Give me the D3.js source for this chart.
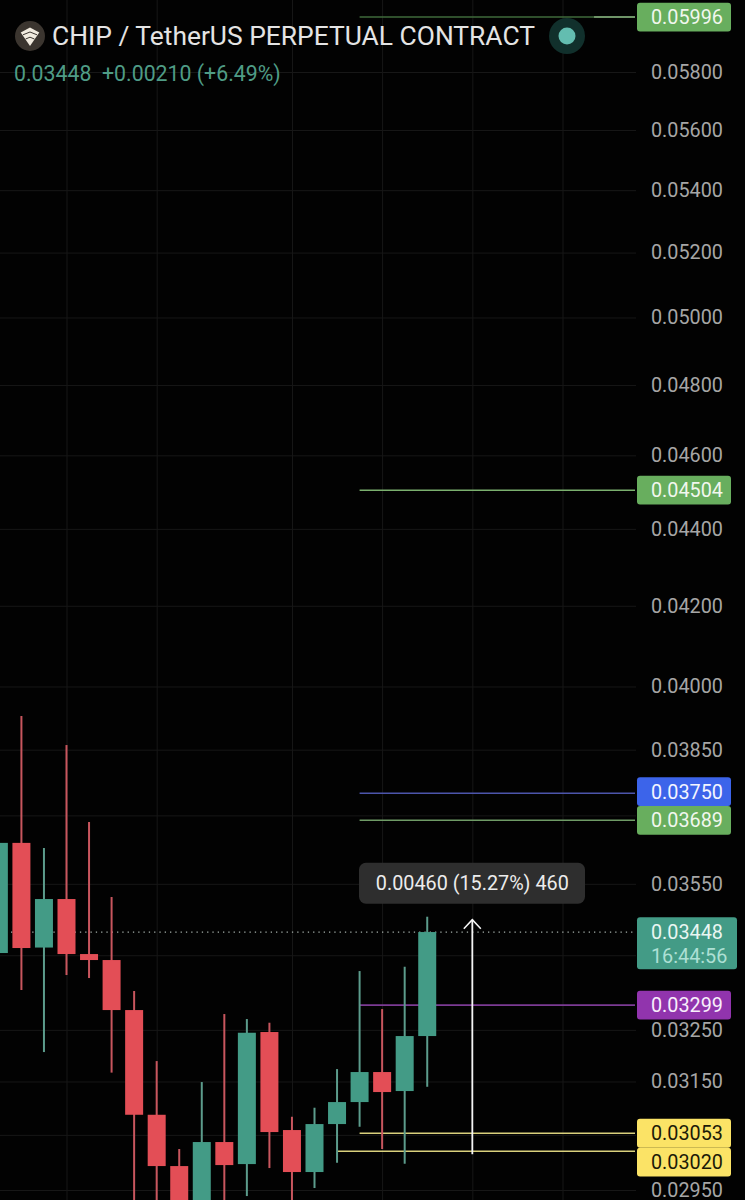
<!DOCTYPE html>
<html>
<head>
<meta charset="utf-8">
<title>CHIP / TetherUS Perpetual Contract</title>
<script src="https://cdn.jsdelivr.net/npm/d3@7"></script>
<style>
  html, body { margin: 0; background: #020202; }
  svg { display: block; font-family: Roboto, sans-serif; }
</style>
</head>
<body>
<svg id="chart" width="745" height="1200"></svg>
<script>
// Daily candles, oldest first (prices in USDT)
const opens  = [0.034045, 0.036390, 0.034158, 0.035175, 0.034024, 0.033901, 0.032891, 0.030873, 0.029930, 0.029056, 0.030368, 0.029966, 0.032457, 0.030589, 0.029822, 0.030700, 0.031111, 0.031681, 0.031319, 0.032378];
const highs  = [0.037200, 0.039290, 0.036277, 0.038608, 0.036852, 0.035218, 0.033272, 0.031892, 0.030240, 0.031490, 0.032812, 0.032713, 0.032640, 0.030836, 0.031005, 0.031738, 0.033676, 0.032911, 0.033764, 0.034801];
const lows   = [0.033600, 0.033292, 0.032066, 0.033595, 0.033534, 0.031670, 0.028794, 0.028794, 0.028500, 0.028700, 0.028700, 0.029392, 0.029894, 0.028800, 0.029535, 0.029990, 0.030650, 0.030240, 0.029972, 0.031400];
const closes = [0.036390, 0.034148, 0.035175, 0.034024, 0.033901, 0.032891, 0.030873, 0.029930, 0.029056, 0.030368, 0.029948, 0.032443, 0.030552, 0.029822, 0.030700, 0.031111, 0.031681, 0.031300, 0.032378, 0.034480];

// Price grid levels; the labelled subset leaves out the ones under a level tag
const gridPrices = [0.058, 0.056, 0.054, 0.052, 0.050, 0.048, 0.046, 0.044, 0.042, 0.040, 0.0385, 0.037, 0.0355, 0.034, 0.0325, 0.0315, 0.0305, 0.0295];
const labelPrices = [0.058, 0.056, 0.054, 0.052, 0.050, 0.048, 0.046, 0.044, 0.042, 0.040, 0.0385, 0.0355, 0.0325, 0.0315, 0.0295];
// Candle slots that carry a vertical grid line
const timeTicks = [3, 7, 13, 17, 21, 25];

// Horizontal order levels: price, first candle slot, colour of line and tag
const levelPrices = [0.05996, 0.04504, 0.03750, 0.03689, 0.03299, 0.03053, 0.03020];
const levelStarts = [16, 16, 16, 16, 16, 16, 15];
const levelLines  = ["#3f6a3b", "#7bb06e", "#4c55ab", "#6f9b66", "#7c3b94", "#d9d07c", "#d9d07c"];
const levelTags   = ["#68ae5e", "#68ae5e", "#3c64ea", "#68ae5e", "#9134ad", "#fbe366", "#fbe366"];
const levelText   = ["#f1f7ee", "#f1f7ee", "#f3f5ff", "#f1f7ee", "#f8eefb", "#1c1a08", "#1c1a08"];
const tagNudges   = [0, 0, -1.5, 0, 0, 0, 11];

const lastPrice = 0.03448;
const countdown = "16:44:56";
const measureFrom = 0.03020;
const measureTo = 0.03480;
const measureLabel = "0.00460 (15.27%) 460";

const UP = "#439b86", DOWN = "#e34e56", UP_WICK = "#5c9c8c", DOWN_WICK = "#c8565e";
const GRID = "#171717";
const fmt = d3.format(".5f");

const svg = d3.select("#chart");
const plotRight = 636, tagLeft = 637, tagRight = 731, labelX = 651;

const x = d3.scaleLinear().domain([3, 25]).range([66.5, 562.5]);
const y = d3.scaleLog().domain([0.058, 0.0295]).range([72, 1190]);

// Grid
svg.append("g").attr("transform", `translate(${plotRight},0)`)
  .call(d3.axisLeft(y).tickValues(gridPrices).tickSize(plotRight).tickFormat(""))
  .call(g => g.select(".domain").remove())
  .call(g => g.selectAll("line").attr("stroke", GRID));
svg.append("g").attr("transform", "translate(0,1200)")
  .call(d3.axisTop(x).tickValues(timeTicks).tickSize(1200).tickFormat(""))
  .call(g => g.select(".domain").remove())
  .call(g => g.selectAll("line").attr("stroke", GRID));

// Last price dotted line
svg.append("line")
  .attr("x1", 11).attr("x2", plotRight)
  .attr("y1", y(lastPrice)).attr("y2", y(lastPrice))
  .attr("stroke", "#a5b0aa").attr("stroke-width", 1.2)
  .attr("stroke-dasharray", "1.3 4");

// Order levels
svg.append("g").selectAll("line").data(levelPrices).join("line")
  .attr("x1", (d, i) => x(levelStarts[i]))
  .attr("x2", plotRight - 1)
  .attr("y1", d => y(d)).attr("y2", d => y(d))
  .attr("stroke", (d, i) => levelLines[i])
  .attr("stroke-width", 1.6);
// A second order sits on the top level, starting further right
svg.append("line")
  .attr("x1", x(26.4)).attr("x2", plotRight - 1)
  .attr("y1", y(levelPrices[0])).attr("y2", y(levelPrices[0]))
  .attr("stroke", "#86ab7c").attr("stroke-width", 1.6);

// Candles
const candles = svg.append("g").selectAll("g").data(opens).join("g");
candles.append("line")
  .attr("x1", (d, i) => x(i)).attr("x2", (d, i) => x(i))
  .attr("y1", (d, i) => y(highs[i])).attr("y2", (d, i) => y(lows[i]))
  .attr("stroke", (d, i) => closes[i] >= opens[i] ? UP_WICK : DOWN_WICK)
  .attr("stroke-width", 2);
candles.append("rect")
  .attr("x", (d, i) => x(i) - 9).attr("width", 18)
  .attr("y", (d, i) => y(Math.max(opens[i], closes[i])))
  .attr("height", (d, i) => Math.abs(y(opens[i]) - y(closes[i])))
  .attr("fill", (d, i) => closes[i] >= opens[i] ? UP : DOWN);

// Measure arrow and its readout
const arrowX = x(21);
const arrowShift = 3;
const arrowTop = y(measureTo) + arrowShift, arrowBottom = y(measureFrom) + arrowShift;
svg.append("line")
  .attr("x1", arrowX).attr("x2", arrowX)
  .attr("y1", arrowTop).attr("y2", arrowBottom)
  .attr("stroke", "#f4f4f4").attr("stroke-width", 1.8);
svg.append("path")
  .attr("d", `M${arrowX - 8.5},${arrowTop + 9}L${arrowX},${arrowTop}L${arrowX + 8.5},${arrowTop + 9}`)
  .attr("fill", "none").attr("stroke", "#f4f4f4").attr("stroke-width", 1.6);
svg.append("rect")
  .attr("x", 359).attr("y", arrowTop - 57).attr("width", 226).attr("height", 41).attr("rx", 7)
  .attr("fill", "#2e2e2e");
svg.append("text")
  .attr("x", arrowX).attr("y", arrowTop - 36.5)
  .attr("dy", "0.35em").attr("text-anchor", "middle")
  .attr("font-size", 19.8).attr("fill", "#ececec")
  .text(measureLabel);

// Price axis labels
svg.append("g").attr("transform", `translate(${labelX},0)`)
  .call(d3.axisRight(y).tickValues(labelPrices).tickSize(0).tickPadding(0).tickFormat(fmt))
  .call(g => g.select(".domain").remove())
  .call(g => g.selectAll("text")
    .attr("font-family", "Roboto, sans-serif")
    .attr("font-size", 19.8).attr("fill", "#a6a6a6"));

// Level tags on the axis
const tags = svg.append("g").selectAll("g").data(levelPrices).join("g")
  .attr("transform", (d, i) => `translate(0,${y(d) + tagNudges[i]})`);
tags.append("rect")
  .attr("x", tagLeft).attr("y", -14.4)
  .attr("width", tagRight - tagLeft).attr("height", 28.8).attr("rx", 3)
  .attr("fill", (d, i) => levelTags[i]);
tags.append("text")
  .attr("x", labelX).attr("dy", "0.36em")
  .attr("font-size", 19.8)
  .attr("fill", (d, i) => levelText[i])
  .text(fmt);

// Last price tag with the candle countdown
const lastY = y(lastPrice);
svg.append("rect")
  .attr("x", tagLeft).attr("y", lastY - 14.7)
  .attr("width", 100).attr("height", 52).attr("rx", 3)
  .attr("fill", UP);
svg.append("text")
  .attr("x", labelX).attr("y", lastY).attr("dy", "0.36em")
  .attr("font-size", 19.8).attr("fill", "#e9f6f2")
  .text(fmt(lastPrice));
svg.append("text")
  .attr("x", labelX).attr("y", lastY + 23.5).attr("dy", "0.36em")
  .attr("font-size", 19.8).attr("fill", "#aee0d5")
  .text(countdown);

// Symbol icon: a pale shield split into three layers
const icon = svg.append("g").attr("transform", "translate(30,36)");
icon.append("circle").attr("r", 15).attr("fill", "#3b352f");
icon.append("path").attr("d", "M0,-8.5L9.3,-3.6L0,10L-9.3,-3.6Z").attr("fill", "#f1ebdf");
icon.append("path").attr("d", "M-7,-1.2L0,-4L7,-1.2M-4.4,3L0,1.2L4.4,3")
  .attr("fill", "none").attr("stroke", "#3b352f").attr("stroke-width", 1);

// Header
svg.append("text")
  .attr("x", 52).attr("y", 35).attr("dy", "0.36em")
  .attr("font-size", 26.4).attr("font-weight", 400).attr("fill", "#e4e4e4")
  .text("CHIP / TetherUS PERPETUAL CONTRACT");
svg.append("text")
  .attr("x", 14).attr("y", 73).attr("dy", "0.36em")
  .attr("font-size", 21.3).attr("font-weight", 400).attr("fill", "#4f9c86")
  .style("white-space", "pre")
  .text("0.03448  +0.00210 (+6.49%)");

// Market status dot
svg.append("circle").attr("cx", 567).attr("cy", 36).attr("r", 18).attr("fill", "#11302c");
svg.append("circle").attr("cx", 567).attr("cy", 36).attr("r", 8.5).attr("fill", "#63bdb0");
</script>
</body>
</html>
